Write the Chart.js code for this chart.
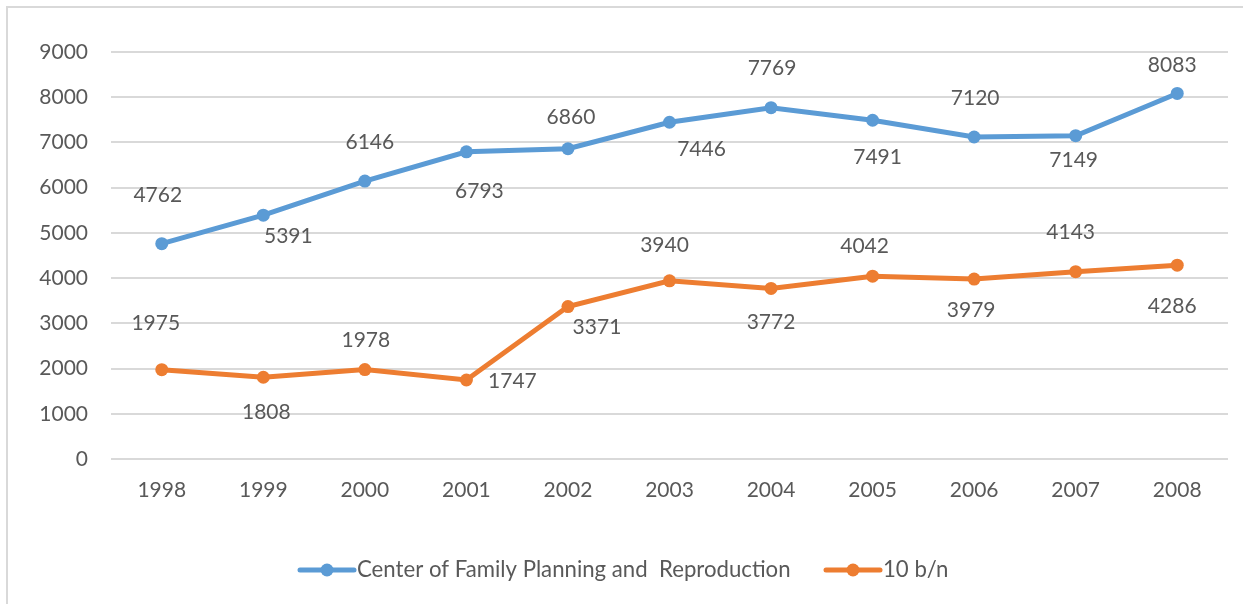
<!DOCTYPE html>
<html>
<head>
<meta charset="utf-8">
<script src="https://cdn.jsdelivr.net/npm/chart.js@4"></script>
<style>
html,body{margin:0;padding:0;background:#fff;}
#wrap{position:relative;width:1243px;height:604px;}
canvas{display:block;}
</style>
</head>
<body>
<div id="wrap"><canvas id="c" width="1243" height="604"></canvas></div>
<script>
const categories = ["1998","1999","2000","2001","2002","2003","2004","2005","2006","2007","2008"];
const centerValues = [4762,5391,6146,6793,6860,7446,7769,7491,7120,7149,8083];
const bnValues = [1975,1808,1978,1747,3371,3940,3772,4042,3979,4143,4286];
const seriesNames = ["Center of Family Planning and  Reproduction","10 b/n"];
const yTicks = [0,1000,2000,3000,4000,5000,6000,7000,8000,9000];

// label placement (pixel offsets from each point), style only
const centerLabelOffsets = [[-4,-48],[25,21],[5,-39],[13,39],[3,-32],[32,27],[1,-39],[5,37],[1,-39],[-2,25],[-5,-28]];
const bnLabelOffsets = [[-6,-46],[3,35],[1,-29],[46,1],[29,21],[-5,-36],[0,34],[-8,-30],[-3,31],[-5,-39],[-5,41]];

const BLUE = '#5B9BD5', ORANGE = '#ED7D31', TEXT = '#595959', GRID = '#d9d9d9';
const FONT = 'Lato, "Open Sans", sans-serif';
const FS = 21;

const labelPlugin = {
  id: 'valueLabels',
  afterDatasetsDraw(chart) {
    const ctx = chart.ctx;
    ctx.save();
    ctx.font = FS + 'px ' + FONT;
    ctx.fillStyle = TEXT;
    ctx.textAlign = 'center';
    ctx.textBaseline = 'middle';
    const offs = [centerLabelOffsets, bnLabelOffsets];
    chart.data.datasets.forEach((ds, di) => {
      const meta = chart.getDatasetMeta(di);
      meta.data.forEach((pt, i) => {
        const o = offs[di][i];
        ctx.fillText(String(ds.data[i]), pt.x + o[0], pt.y + o[1]);
      });
    });
    ctx.restore();
  }
};

const framePlugin = {
  id: 'frame',
  afterDraw(chart) {
    const ctx = chart.ctx;
    ctx.save();
    ctx.strokeStyle = GRID;
    ctx.lineWidth = 2;
    ctx.beginPath();
    ctx.moveTo(7, 604);
    ctx.lineTo(7, 7);
    ctx.lineTo(1243, 7);
    ctx.stroke();

    // legend
    const y = 570;
    const items = [
      {x: 300, color: BLUE, text: seriesNames[0]},
      {x: 826, color: ORANGE, text: seriesNames[1]}
    ];
    ctx.textBaseline = 'middle';
    ctx.textAlign = 'left';
    ctx.font = '22px ' + FONT;
    const m = ctx.measureText(seriesNames[0]).width;
    const fs = Math.max(18, Math.min(24, 22 * 433 / m));
    items.forEach(it => {
      ctx.strokeStyle = it.color;
      ctx.lineWidth = 5;
      ctx.lineCap = 'round';
      ctx.beginPath();
      ctx.moveTo(it.x, y);
      ctx.lineTo(it.x + 54, y);
      ctx.stroke();
      ctx.fillStyle = it.color;
      ctx.beginPath();
      ctx.arc(it.x + 27, y, 6.5, 0, Math.PI * 2);
      ctx.fill();
      ctx.fillStyle = TEXT;
      ctx.font = fs.toFixed(1) + 'px ' + FONT;
      ctx.fillText(it.text, it.x + 57, y);
    });
    ctx.restore();
  }
};

new Chart(document.getElementById('c'), {
  type: 'line',
  data: {
    labels: categories,
    datasets: [
      {label: seriesNames[0], data: centerValues, borderColor: BLUE, backgroundColor: BLUE,
       borderWidth: 5, pointRadius: 6.5, pointBackgroundColor: BLUE, pointBorderWidth: 0, tension: 0},
      {label: seriesNames[1], data: bnValues, borderColor: ORANGE, backgroundColor: ORANGE,
       borderWidth: 5, pointRadius: 6.5, pointBackgroundColor: ORANGE, pointBorderWidth: 0, tension: 0}
    ]
  },
  options: {
    responsive: false,
    animation: false,
    layout: {padding: {left: 0, right: 15, top: 52, bottom: 0}},
    plugins: {legend: {display: false}, tooltip: {enabled: false}},
    scales: {
      x: {
        offset: true,
        grid: {display: false, drawTicks: false},
        border: {display: false},
        ticks: {color: TEXT, font: {family: FONT, size: FS}, padding: 19, maxRotation: 0},
        afterFit(s) { s.height = 145; }
      },
      y: {
        min: 0, max: 9000,
        afterBuildTicks(s) { s.ticks = yTicks.map(v => ({value: v})); },
        grid: {color: GRID, lineWidth: 2, drawTicks: false},
        border: {display: false},
        ticks: {color: TEXT, font: {family: FONT, size: FS}, padding: 23, callback: v => String(v)},
        afterFit(s) { s.width = 111; }
      }
    }
  },
  plugins: [labelPlugin, framePlugin]
});
</script>
</body>
</html>
